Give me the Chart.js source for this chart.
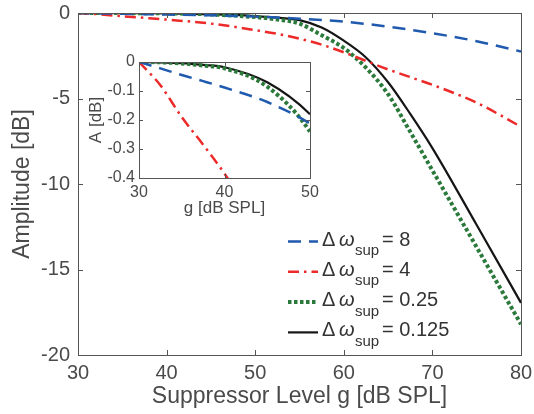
<!DOCTYPE html>
<html>
<head>
<meta charset="utf-8">
<script src="https://cdn.jsdelivr.net/npm/chart.js@4.4.0/dist/chart.umd.min.js"></script>
<style>
  html, body { margin: 0; padding: 0; background: #fff; }
  #wrap { position: relative; width: 534px; height: 414px; }
  #mainChart { position: absolute; left: 0; top: 0; }
  #insetChart { position: absolute; left: 80px; top: 48px; }
</style>
</head>
<body>
<div id="wrap">
  <canvas id="mainChart" width="534" height="414"></canvas>
  <canvas id="insetChart" width="240" height="180"></canvas>
</div>
<script>
// suppressor level g [dB SPL]
const gLevels = [30, 32.5, 35, 37.5, 40, 45, 50, 52.5, 55, 57.5, 60, 62.5, 65, 67.5, 70, 75, 80];

// amplitude [dB] for each suppressor bandwidth
const ampW8    = [0, -0.022, -0.045, -0.066, -0.088, -0.138, -0.212, -0.265, -0.33, -0.41, -0.5, -0.64, -0.8, -0.98, -1.18, -1.65, -2.25];
const ampW4    = [0, -0.08, -0.19, -0.285, -0.385, -0.62, -1.0, -1.22, -1.5, -1.85, -2.3, -2.8, -3.3, -3.75, -4.2, -5.25, -6.65];
const ampW025  = [0, -0.001, -0.005, -0.012, -0.022, -0.085, -0.24, -0.38, -0.62, -1.3, -2.05, -3.2, -4.75, -6.95, -9.2, -13.7, -18.2];
const ampW0125 = [0, -0.001, -0.004, -0.01, -0.018, -0.07, -0.18, -0.27, -0.42, -0.85, -1.62, -2.6, -4.05, -5.9, -7.9, -12.4, -16.95];

const legendValues = ["8", "4", "0.25", "0.125"];

const mainXTicks = [30, 40, 50, 60, 70, 80];
const mainYTicks = [0, -5, -10, -15, -20];
const insetXTicks = [30, 40, 50];
const insetYTicks = [0, -0.1, -0.2, -0.3, -0.4];

const FONT = "'Liberation Sans', Arial, Helvetica, sans-serif";
const TXT = "#4a4a4a";

const lineStyles = [
  { color: "#1f5aae", width: 2.5, dash: [13, 8] },
  { color: "#ec2a2a", width: 2.5, dash: [11, 5, 2.5, 5] },
  { color: "#2b7a3b", width: 4, dash: [3.5, 2.5] },
  { color: "#151515", width: 2.2, dash: [] }
];

function buildDatasets() {
  const series = [ampW8, ampW4, ampW025, ampW0125];
  return series.map((vals, i) => ({
    label: "w" + legendValues[i],
    data: gLevels.map((g, k) => ({ x: g, y: vals[k] })),
    borderColor: lineStyles[i].color,
    borderWidth: lineStyles[i].width,
    borderDash: lineStyles[i].dash,
    borderCapStyle: "butt",
    pointRadius: 0,
    fill: false,
    cubicInterpolationMode: "monotone"
  }));
}

// box around plot area with inward ticks on all four sides
const boxTicks = {
  id: "boxTicks",
  beforeDraw(chart, args, opts) {
    if (!opts.whiteArea) return;
    const a = chart.chartArea, ctx = chart.ctx;
    ctx.save();
    ctx.fillStyle = "#fff";
    ctx.fillRect(a.left, a.top, a.right - a.left, a.bottom - a.top);
    ctx.restore();
  },
  afterDraw(chart, args, opts) {
    const a = chart.chartArea, ctx = chart.ctx;
    const len = opts.len || 5;
    const xs = chart.scales.x, ys = chart.scales.y;
    ctx.save();
    ctx.strokeStyle = "#555";
    ctx.lineWidth = 1;
    ctx.setLineDash([]);
    ctx.beginPath();
    xs.ticks.forEach(t => {
      const px = Math.round(xs.getPixelForValue(t.value)) + 0.5;
      ctx.moveTo(px, a.bottom); ctx.lineTo(px, a.bottom - len);
      ctx.moveTo(px, a.top); ctx.lineTo(px, a.top + len);
    });
    ys.ticks.forEach(t => {
      const py = Math.round(ys.getPixelForValue(t.value)) + 0.5;
      ctx.moveTo(a.left, py); ctx.lineTo(a.left + len, py);
      ctx.moveTo(a.right, py); ctx.lineTo(a.right - len, py);
    });
    ctx.stroke();
    ctx.strokeRect(Math.round(a.left) + 0.5, Math.round(a.top) + 0.5,
      Math.round(a.right - a.left), Math.round(a.bottom - a.top));
    ctx.restore();
  }
};

// legend with subscripts, drawn inside the main axes
const supLegend = {
  id: "supLegend",
  afterDraw(chart, args, opts) {
    if (!opts.show) return;
    const ctx = chart.ctx;
    chart.data.datasets.forEach((ds, i) => {
      const cy = 241.5 + 30.3 * i;
      ctx.save();
      ctx.strokeStyle = ds.borderColor;
      ctx.lineWidth = ds.borderWidth;
      ctx.lineCap = "butt";
      ctx.setLineDash(ds.borderDash);
      ctx.beginPath();
      ctx.moveTo(288, cy); ctx.lineTo(318, cy);
      ctx.stroke();
      ctx.setLineDash([]);
      ctx.fillStyle = "#333";
      ctx.textBaseline = "alphabetic";
      ctx.textAlign = "left";
      ctx.font = "20px " + FONT;
      ctx.fillText("\u0394", 322, cy + 4);
      ctx.font = "italic 20px " + FONT;
      ctx.fillText("\u03C9", 339, cy + 4);
      ctx.font = "15px " + FONT;
      ctx.fillText("sup", 355, cy + 13.5);
      ctx.font = "20px " + FONT;
      ctx.fillText("= " + legendValues[i], 382, cy + 4);
      ctx.restore();
    });
  }
};

function fmt(v) {
  if (Math.abs(v) < 1e-9) return "0";
  return Number.isInteger(v) ? String(v) : v.toFixed(1);
}

function axisOptions(o) {
  return {
    type: "linear",
    min: o.min, max: o.max,
    afterBuildTicks: s => { s.ticks = o.ticks.map(v => ({ value: v })); },
    afterFit: s => {
      o.fit(s);
      // let the layout padding alone decide the plot box
      s.paddingTop = 0; s.paddingBottom = 0; s.paddingLeft = 0; s.paddingRight = 0;
    },
    grid: { display: false, drawTicks: false },
    border: { display: false },
    ticks: {
      color: TXT, padding: o.tickPad, maxRotation: 0, autoSkip: false,
      font: { family: FONT, size: o.tickSize },
      callback: v => fmt(v)
    },
    title: {
      display: true, text: o.title, color: TXT,
      font: { family: FONT, size: o.titleSize },
      padding: o.titlePad
    }
  };
}

Chart.defaults.animation = false;

new Chart(document.getElementById("mainChart"), {
  type: "line",
  data: { datasets: buildDatasets() },
  plugins: [boxTicks, supLegend],
  options: {
    responsive: false,
    devicePixelRatio: 1,
    layout: { padding: { left: 0, right: 13, top: 13, bottom: 0 } },
    plugins: {
      legend: { display: false },
      tooltip: { enabled: false },
      boxTicks: { len: 5 },
      supLegend: { show: true }
    },
    scales: {
      x: axisOptions({
        min: 30, max: 80, ticks: mainXTicks, tickSize: 20, tickPad: 6,
        title: "Suppressor Level g [dB SPL]", titleSize: 23,
        titlePad: { top: 0, bottom: 4 },
        fit: s => { s.height = 59; }
      }),
      y: axisOptions({
        min: -20, max: 0, ticks: mainYTicks, tickSize: 20, tickPad: 8,
        title: "Amplitude [dB]", titleSize: 23,
        titlePad: { top: 9, bottom: 0 },
        fit: s => { s.width = 78; }
      })
    }
  }
});

new Chart(document.getElementById("insetChart"), {
  type: "line",
  data: { datasets: buildDatasets() },
  plugins: [boxTicks],
  options: {
    responsive: false,
    devicePixelRatio: 1,
    layout: { padding: { left: 0, right: 10, top: 14, bottom: 0 } },
    plugins: {
      legend: { display: false },
      tooltip: { enabled: false },
      boxTicks: { len: 4, whiteArea: true }
    },
    scales: {
      x: axisOptions({
        min: 30, max: 50, ticks: insetXTicks, tickSize: 16, tickPad: 5,
        title: "g [dB SPL]", titleSize: 17,
        titlePad: { top: 0, bottom: 9 },
        fit: s => { s.height = 50; }
      }),
      y: axisOptions({
        min: -0.4, max: 0, ticks: insetYTicks, tickSize: 16, tickPad: 4,
        title: "A [dB]", titleSize: 17,
        titlePad: { top: 6, bottom: 0 },
        fit: s => { s.width = 59; }
      })
    }
  }
});
</script>
</body>
</html>
